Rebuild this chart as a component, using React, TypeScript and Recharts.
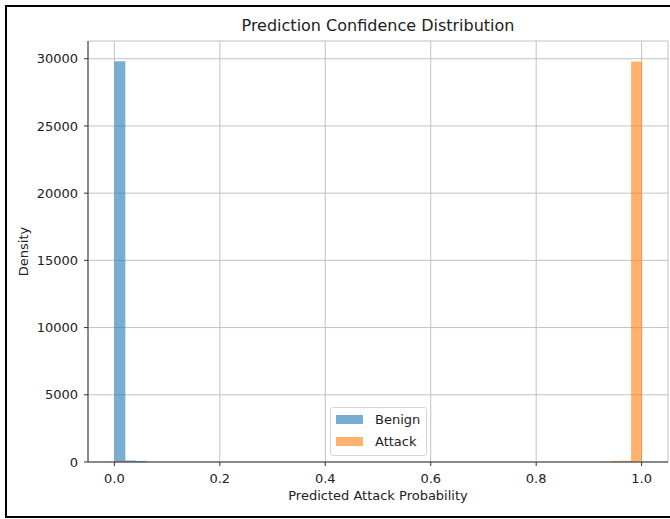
import { BarChart, Bar, XAxis, YAxis, CartesianGrid, Legend } from 'recharts';

// histogram bins (width 0.02) that hold any mass; empty bins are left out
const binCenters = [0.01, 0.03, 0.05, 0.95, 0.97, 0.99];
const benignDensity = [29820, 110, 80, 0, 0, 0];
const attackDensity = [60, 0, 0, 70, 90, 29790];

const seriesNames = ['Benign', 'Attack'];
const xTicks = [0, 0.2, 0.4, 0.6, 0.8, 1.0];
const yTicks = [0, 5000, 10000, 15000, 20000, 25000, 30000];

const data = binCenters.map((x, i) => ({
  x,
  Benign: benignDensity[i],
  Attack: attackDensity[i],
}));

const FONT = '"DejaVu Sans", sans-serif';
const tickStyle = { fontSize: 13, fill: '#222', fontFamily: FONT };

const legendColors: Record<string, string> = {
  Benign: '#78aed2',
  Attack: '#ffb26e',
};

function HistLegend(props: any) {
  // keep the order the series were plotted in
  const items = [...(props.payload || [])].sort(
    (a: any, b: any) => seriesNames.indexOf(a.value) - seriesNames.indexOf(b.value)
  );
  return (
    <div
      style={{
        boxSizing: 'border-box',
        width: 97,
        height: 49,
        border: '1px solid #d6d6d6',
        borderRadius: 3,
        background: 'rgba(255,255,255,0.8)',
        paddingLeft: 5,
        fontFamily: FONT,
        fontSize: 13,
        color: '#222',
      }}
    >
      {items.map((it: any) => (
        <div key={it.value} style={{ display: 'flex', alignItems: 'center', height: 22 }}>
          <span
            style={{
              display: 'inline-block',
              width: 27,
              height: 9,
              marginRight: 12,
              background: legendColors[it.value],
            }}
          />
          <span>{it.value}</span>
        </div>
      ))}
    </div>
  );
}

export default function App() {
  return (
    <div
      style={{
        position: 'absolute',
        left: 0,
        top: 0,
        width: 670,
        height: 519,
        background: '#fff',
        overflow: 'hidden',
        fontFamily: FONT,
      }}
    >
      <div
        style={{
          position: 'absolute',
          left: 5,
          top: 5,
          width: 700,
          height: 513,
          boxSizing: 'border-box',
          border: '2px solid #000',
        }}
      />
      <div
        style={{
          position: 'absolute',
          left: 88,
          top: 18,
          width: 580,
          textAlign: 'center',
          fontSize: 16,
          lineHeight: '16px',
          color: '#222',
        }}
      >
        Prediction Confidence Distribution
      </div>
      <div style={{ position: 'absolute', left: 0, top: 0 }}>
        <BarChart
          width={670}
          height={519}
          data={data}
          margin={{ top: 41, right: 2, bottom: 27, left: 8 }}
          barGap={0}
          barCategoryGap={0}
        >
          <CartesianGrid stroke="#c2c2c2" strokeWidth={1} />
          <XAxis
            dataKey="x"
            type="number"
            domain={[-0.05, 1.05]}
            ticks={xTicks}
            interval={0}
            tickFormatter={(v: number) => v.toFixed(1)}
            height={30}
            tick={tickStyle}
            tickSize={4}
            tickMargin={8}
            stroke="#333"
            label={{
              value: 'Predicted Attack Probability',
              position: 'bottom',
              offset: -1,
              style: { fontSize: 13, fill: '#222', fontFamily: FONT },
            }}
          />
          <XAxis xAxisId="a" dataKey="x" type="number" domain={[-0.05, 1.05]} hide />
          <XAxis
            xAxisId="top"
            orientation="top"
            dataKey="x"
            type="number"
            domain={[-0.05, 1.05]}
            height={0}
            tick={false}
            tickLine={false}
            stroke="#333"
          />
          <YAxis
            domain={[0, 31320]}
            ticks={yTicks}
            interval={0}
            width={80}
            tick={tickStyle}
            tickSize={4}
            tickMargin={6}
            stroke="#333"
            label={{
              value: 'Density',
              angle: -90,
              position: 'insideLeft',
              offset: 15,
              style: { fontSize: 13, fill: '#222', fontFamily: FONT, textAnchor: 'middle' },
            }}
          />
          <YAxis
            yAxisId="right"
            orientation="right"
            width={0}
            tick={false}
            tickLine={false}
            stroke="#333"
          />
          <Bar dataKey="Benign" fill="#1f77b4" fillOpacity={0.6} isAnimationActive={false} />
          <Bar
            dataKey="Attack"
            xAxisId="a"
            fill="#ff7f0e"
            fillOpacity={0.6}
            isAnimationActive={false}
          />
          <Legend
            layout="vertical"
            align="center"
            verticalAlign="middle"
            content={<HistLegend />}
            wrapperStyle={{ left: 330, top: 407, width: 97, height: 49 }}
          />
        </BarChart>
      </div>
    </div>
  );
}
